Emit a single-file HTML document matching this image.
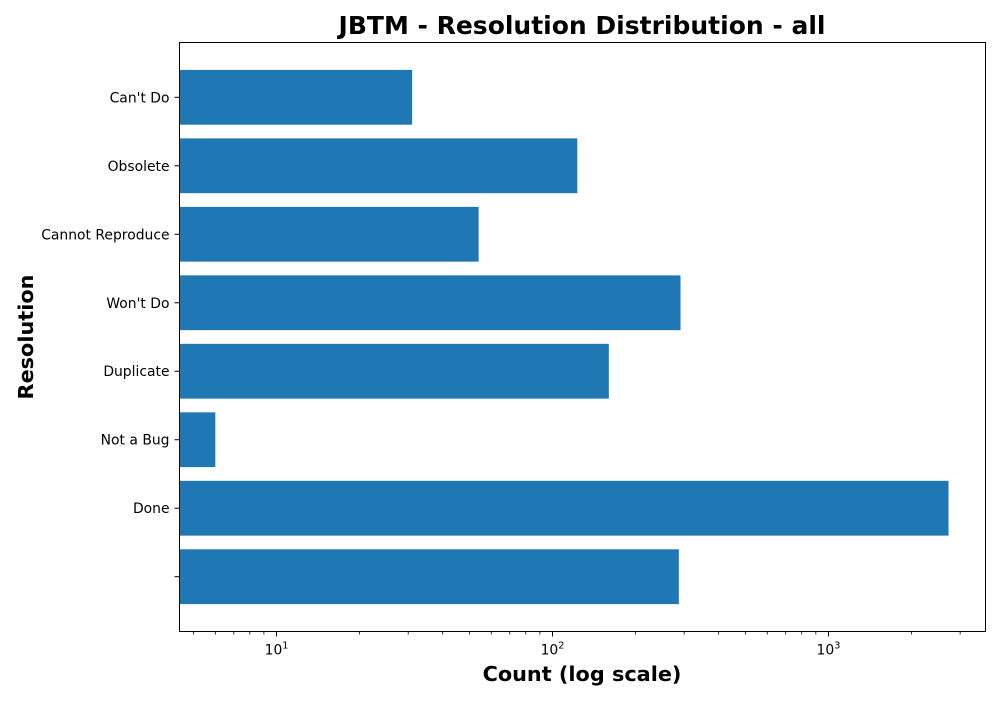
<!DOCTYPE html>
<html><head><meta charset="utf-8"><style>
body{margin:0;background:#fff;}
svg text{font-family:"DejaVu Sans","Liberation Sans",sans-serif;}
</style></head><body>
<svg id="chart" width="1000" height="700" xmlns="http://www.w3.org/2000/svg">
<rect width="1000" height="700" fill="#fff"/>
<text x="582" y="34" text-anchor="middle" font-size="25" font-weight="bold">JBTM - Resolution Distribution - all</text>
<text x="582" y="681" text-anchor="middle" font-size="20.8" font-weight="bold">Count (log scale)</text>
<text transform="translate(33,337) rotate(-90)" text-anchor="middle" font-size="20.8" font-weight="bold">Resolution</text>
<g id="bars"></g>
<g id="ticks"></g>
<rect x="179.5" y="42.5" width="806" height="589" fill="none" stroke="#000" stroke-width="1"/>
</svg>
<script>
const categories = ["", "Done", "Not a Bug", "Duplicate", "Won't Do", "Cannot Reproduce", "Obsolete", "Can't Do"];
const counts = [287, 2723, 6, 160, 291, 54, 123, 31];
const majorTicks = [10, 100, 1000];
const majorLabels = ["1", "2", "3"];

const X0 = 179.5, X1 = 985.5, Y0 = 42.5, Y1 = 631.5;
const logMin = Math.log10(4.45), logMax = Math.log10(3707);
const xs = v => X0 + (Math.log10(v) - logMin) / (logMax - logMin) * (X1 - X0);
const yMin = -0.8, yMax = 7.8;
const ys = i => Y1 - (i - yMin) / (yMax - yMin) * (Y1 - Y0);
const band = (Y1 - Y0) / (yMax - yMin);
const NS = "http://www.w3.org/2000/svg";
const bars = document.getElementById('bars');
const ticks = document.getElementById('ticks');
function mk(tag, attrs, parent) {
  const e = document.createElementNS(NS, tag);
  for (const k in attrs) e.setAttribute(k, attrs[k]);
  parent.appendChild(e);
  return e;
}
categories.forEach((c, i) => {
  const y = ys(i);
  const r = mk('rect', {x: X0, y: y - band * 0.4, width: xs(counts[i]) - X0, height: band * 0.8, fill: '#1f77b4'}, bars);
  
  
  const t = mk('line', {x1: X0 - 5, x2: X0, y1: y, y2: y, stroke: '#000'}, ticks);
  
  
  const l = mk('text', {x: X0 - 10, y: y + 5, 'text-anchor': 'end', 'font-size': 13.9}, ticks);
  l.textContent = c;
  
  
});
majorTicks.forEach((v, i) => {
  const x = xs(v);
  const t = mk('line', {x1: x, x2: x, y1: Y1, y2: Y1 + 5, stroke: '#000'}, ticks);
  
  
  const l = mk('text', {x: x, y: Y1 + 23, 'text-anchor': 'middle', 'font-size': 13.9}, ticks);
  
  
  l.textContent = '10';
  const s = mk('tspan', {dy: -6, 'font-size': 9.7}, l);
  s.textContent = majorLabels[i];
});
for (let d = 1; d <= 1000; d *= 10) {
  for (let m = 2; m <= 9; m++) {
    const val = m * d;
    if (val < 4.45 || val > 3707) continue;
    const x = xs(val);
    const t = mk('line', {x1: x, x2: x, y1: Y1, y2: Y1 + 3, stroke: '#000', 'stroke-width': 0.8}, ticks);
    
    
  }
}
</script>
</body></html>
